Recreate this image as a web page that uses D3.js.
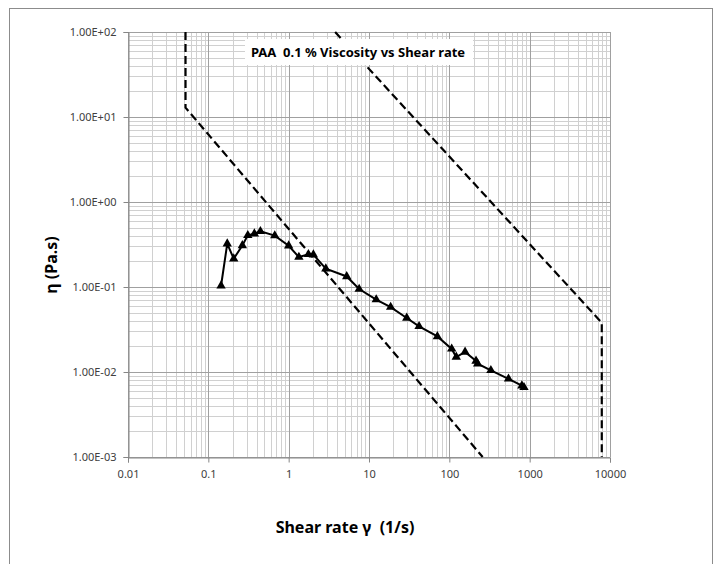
<!DOCTYPE html>
<html>
<head>
<meta charset="utf-8">
<script src="https://cdn.jsdelivr.net/npm/d3@7"></script>
<style>
  body { margin: 0; background: #fff; }
  svg { display: block; }
  text { font-family: "Noto Sans", "Open Sans", sans-serif; white-space: pre; }
</style>
</head>
<body>
<svg id="chart" width="718" height="564"></svg>
<script>
// measured viscosity (Pa.s) vs shear rate (1/s)
const shearRate = [0.144, 0.172, 0.207, 0.265, 0.31, 0.374, 0.445, 0.671, 1.0, 1.34, 1.76, 2.03,
  2.9, 5.28, 7.54, 12.3, 18.6, 29.5, 42, 71, 107, 122, 157, 215, 225, 329, 545, 800, 850];
const viscosity = [0.1035, 0.323, 0.215, 0.308, 0.405, 0.424, 0.451, 0.402, 0.306, 0.225, 0.242, 0.24,
  0.164, 0.133, 0.0946, 0.071, 0.058, 0.0432, 0.0344, 0.0262, 0.0187, 0.015, 0.0172, 0.0135, 0.0125,
  0.01045, 0.0083, 0.0069, 0.0066];

// dashed limit lines
const limitA = [[0.052, 100], [0.052, 12.9], [260, 0.001]];
const limitB = [[3.79, 100], [7900, 0.038], [7900, 0.001]];

const xTicks = [0.01, 0.1, 1, 10, 100, 1000, 10000];
const xTickLabels = ["0.01", "0.1", "1", "10", "100", "1000", "10000"];
const yTicks = [1e-3, 1e-2, 1e-1, 1, 10, 100];
const yTickLabels = ["1.00E-03", "1.00E-02", "1.00E-01", "1.00E+00", "1.00E+01", "1.00E+02"];

const svg = d3.select("#chart");
const plotLeft = 128, plotRight = 610, plotTop = 32, plotBottom = 457;

const x = d3.scaleLog().domain([0.01, 10000]).range([plotLeft, plotRight]);
const y = d3.scaleLog().domain([0.001, 100]).range([plotBottom, plotTop]);

// outer frame
svg.append("rect")
  .attr("x", 9.5).attr("y", 8.5)
  .attr("width", 703).attr("height", 620)
  .attr("fill", "none")
  .attr("stroke", "#8c8c8c");

// minor grid values
const minorX = [], minorY = [];
for (let e = -2; e < 4; e++) for (let m = 2; m < 10; m++) minorX.push(m * Math.pow(10, e));
for (let e = -3; e < 2; e++) for (let m = 2; m < 10; m++) minorY.push(m * Math.pow(10, e));

const grid = svg.append("g");
grid.selectAll(".mx").data(minorX).enter().append("line")
  .attr("x1", d => Math.round(x(d)) + 0.5).attr("x2", d => Math.round(x(d)) + 0.5)
  .attr("y1", plotTop).attr("y2", plotBottom)
  .attr("stroke", "#d0d0d0");
grid.selectAll(".my").data(minorY).enter().append("line")
  .attr("y1", d => Math.round(y(d)) + 0.5).attr("y2", d => Math.round(y(d)) + 0.5)
  .attr("x1", plotLeft).attr("x2", plotRight)
  .attr("stroke", "#d0d0d0");
grid.selectAll(".Mx").data(xTicks).enter().append("line")
  .attr("x1", d => Math.round(x(d)) + 0.5).attr("x2", d => Math.round(x(d)) + 0.5)
  .attr("y1", plotTop).attr("y2", plotBottom)
  .attr("stroke", "#a0a0a0");
grid.selectAll(".My").data(yTicks).enter().append("line")
  .attr("y1", d => Math.round(y(d)) + 0.5).attr("y2", d => Math.round(y(d)) + 0.5)
  .attr("x1", plotLeft).attr("x2", plotRight)
  .attr("stroke", "#a0a0a0");

// axes
const xAxis = d3.axisBottom(x).tickValues(xTicks)
  .tickFormat((d, i) => xTickLabels[i]).tickSize(5).tickPadding(8);
const yAxis = d3.axisLeft(y).tickValues(yTicks)
  .tickFormat((d, i) => yTickLabels[i]).tickSize(5).tickPadding(7);

const gx = svg.append("g").attr("transform", `translate(0,${plotBottom + 0.5})`).call(xAxis);
const gy = svg.append("g").attr("transform", `translate(${plotLeft + 0.5},0)`).call(yAxis);
[gx, gy].forEach(g => {
  g.select(".domain").attr("stroke", "#868686");
  g.selectAll(".tick line").attr("stroke", "#868686");
  g.selectAll(".tick text").attr("fill", "#404040")
    .style("font-size", "11px").style("font-family", "'Noto Sans', sans-serif");
});

// clip to plot area
svg.append("clipPath").attr("id", "plot-clip")
  .append("rect").attr("x", plotLeft).attr("y", plotTop - 1)
  .attr("width", plotRight - plotLeft + 1).attr("height", plotBottom - plotTop + 2);

const plot = svg.append("g").attr("clip-path", "url(#plot-clip)");

const line = d3.line().x(d => x(d[0])).y(d => y(d[1]));

[limitA, limitB].forEach(pts => {
  plot.append("path")
    .attr("d", line(pts))
    .attr("fill", "none")
    .attr("stroke", "#000")
    .attr("stroke-width", 2.2)
    .attr("stroke-dasharray", "8,4");
});

const series = shearRate.map((s, i) => [s, viscosity[i]]);
plot.append("path")
  .attr("d", line(series))
  .attr("fill", "none")
  .attr("stroke", "#000")
  .attr("stroke-width", 2);

plot.selectAll(".pt").data(series).enter().append("path")
  .attr("class", "pt")
  .attr("transform", d => `translate(${x(d[0])},${y(d[1])})`)
  .attr("d", d3.symbol(d3.symbolTriangle, 38)())
  .attr("fill", "#000");

// chart title with white box
svg.append("rect")
  .attr("x", 245).attr("y", 39)
  .attr("width", 228).attr("height", 26)
  .attr("fill", "#fff");
svg.append("text")
  .attr("x", 358).attr("y", 57)
  .attr("text-anchor", "middle")
  .style("font-size", "13px").style("font-weight", "bold")
  .attr("fill", "#000")
  .text("PAA  0.1 % Viscosity vs Shear rate");

// axis titles
svg.append("text")
  .attr("x", 345).attr("y", 533)
  .attr("text-anchor", "middle")
  .style("font-size", "16px").style("font-weight", "bold")
  .text("Shear rate \u03b3  (1/s)");

svg.append("text")
  .attr("transform", "translate(57,265) rotate(-90)")
  .attr("text-anchor", "middle")
  .style("font-size", "16px").style("font-weight", "bold")
  .text("\u03b7 (Pa.s)");
</script>
</body>
</html>
